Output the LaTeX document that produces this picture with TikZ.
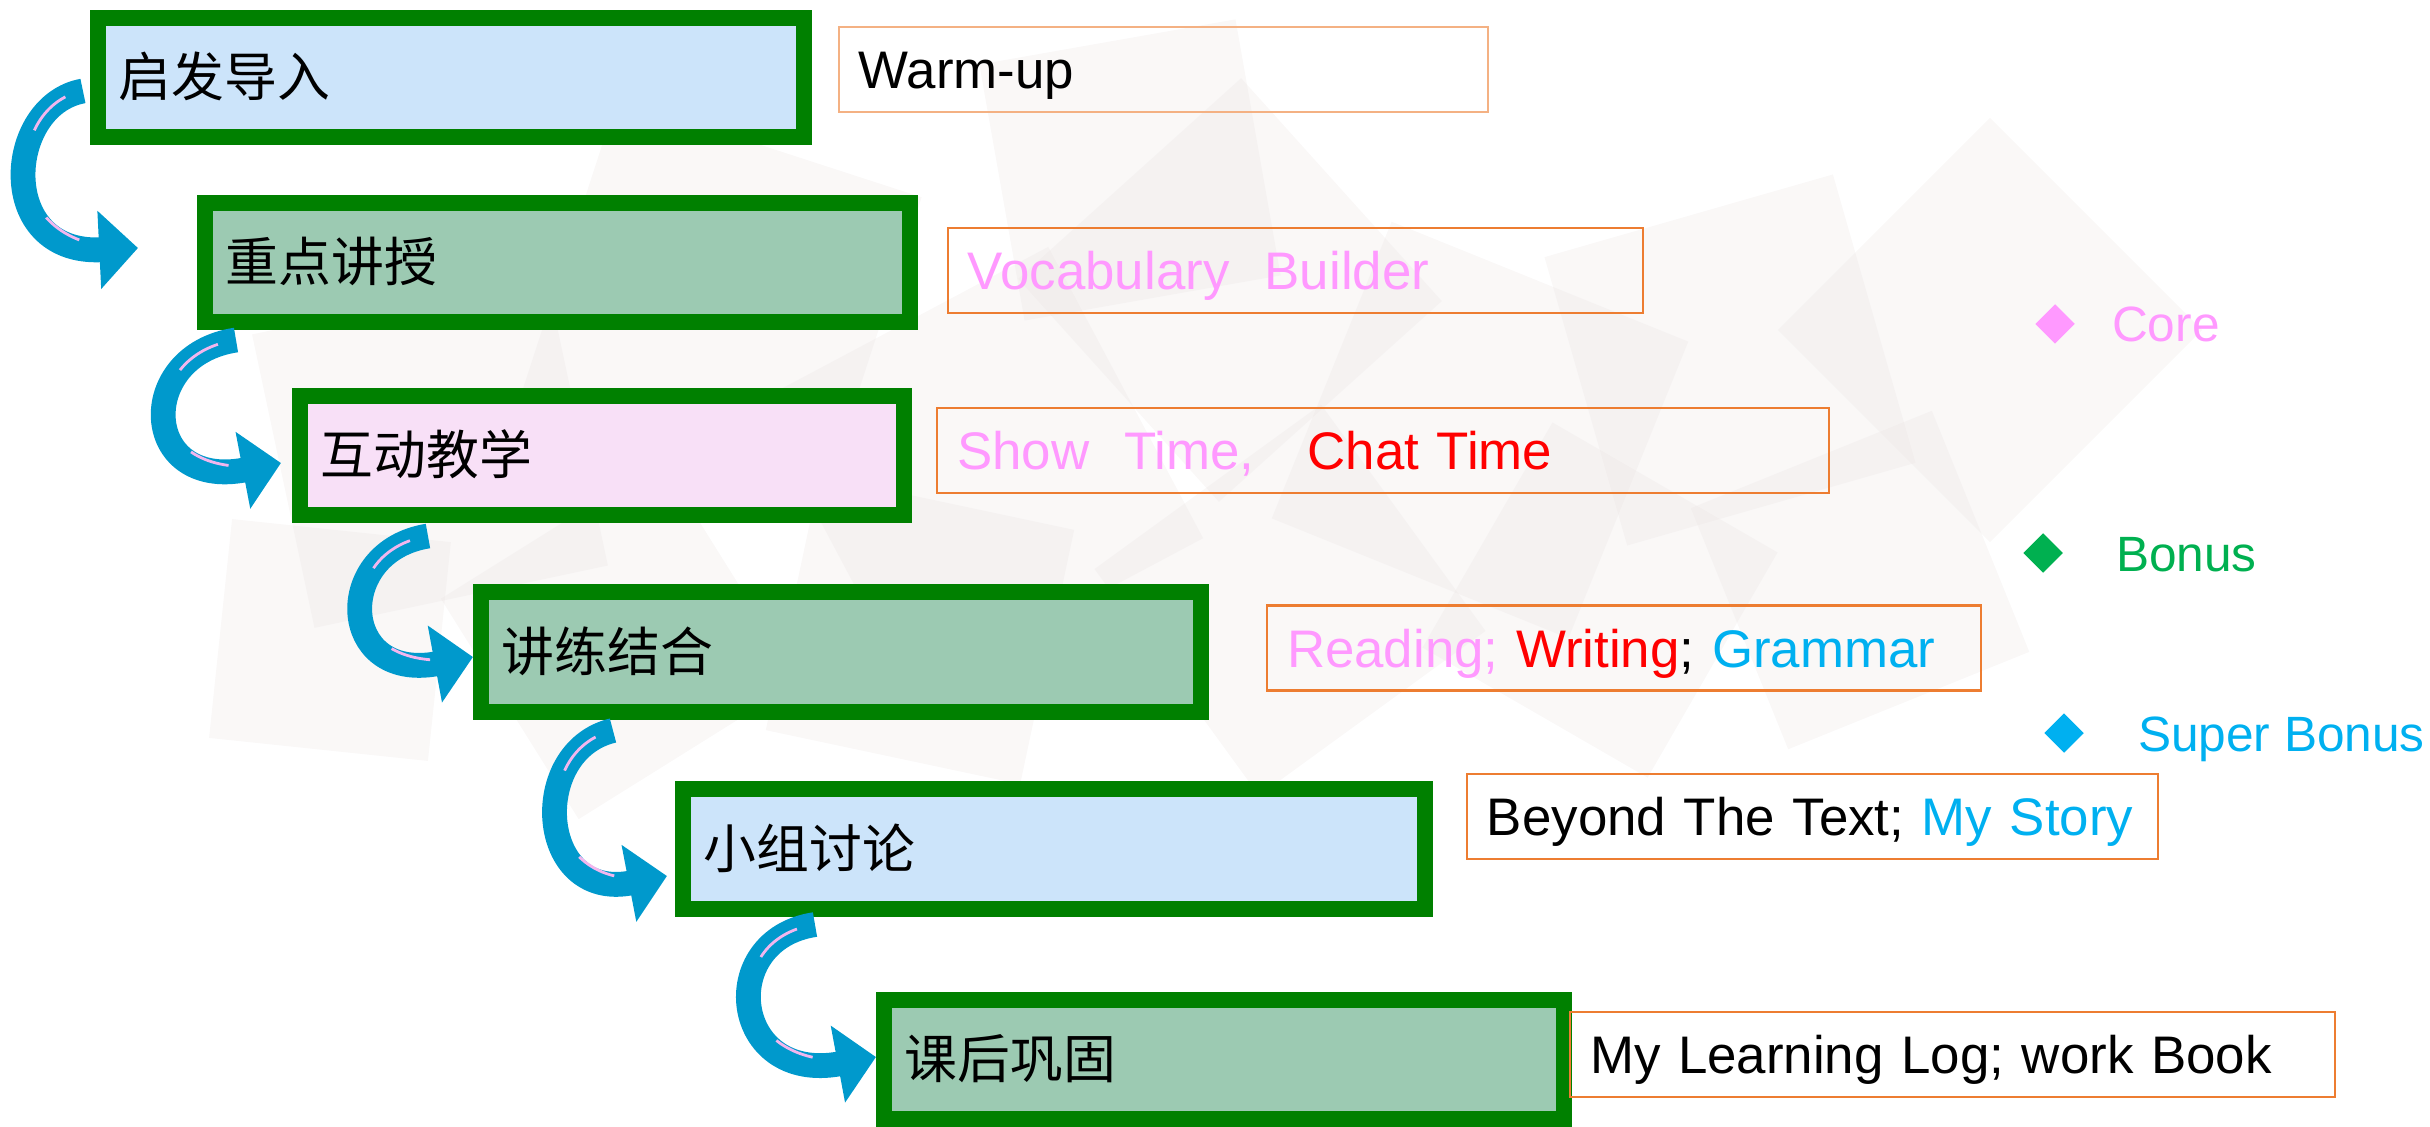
\documentclass[tikz,border=0pt]{standalone}
\usepackage{fontspec}
\setmainfont{Liberation Sans}
\newfontfamily\cjk{Noto Sans CJK SC}
\usepackage{xcolor}
\usepackage{tikz}
\usetikzlibrary{arrows.meta,shapes.geometric}
\definecolor{stepgreen}{HTML}{008000}
\definecolor{stepblue}{HTML}{CCE4FA}
\definecolor{stepsage}{HTML}{9CCAB2}
\definecolor{steppink}{HTML}{F8E0F7}
\definecolor{sideorange}{HTML}{ED7D31}
\definecolor{sidepeach}{HTML}{F4B183}
\definecolor{corepink}{HTML}{FF99FF}
\definecolor{bonusgreen}{HTML}{00B050}
\definecolor{superblue}{HTML}{00B0F0}
\definecolor{arrowblue}{HTML}{0099CC}
\definecolor{glintpink}{HTML}{F2B6EE}
\definecolor{bgsquare}{HTML}{E6DEDC}
\tikzset{
  stepbox/.style = {rectangle, draw=stepgreen, line width=1.03mm,
    minimum height=7.68mm, inner xsep=1.35mm, inner ysep=0pt, align=left,
    text height=7pt, text depth=0pt, font=\cjk\fontsize{9.7}{11}\selectfont},% green step box
  sidebox/.style = {rectangle, draw=sideorange, line width=0.17mm,
    minimum height=5.48mm, inner xsep=1.29mm, inner ysep=0pt, align=left,
    text height=7pt, text depth=0pt, font=\fontsize{9.7}{11}\selectfont},% orange side box
  legdot/.style = {diamond, inner sep=0pt, minimum size=2.6mm},
  legtext/.style = {anchor=base west, inner sep=0pt,
    font=\fontsize{9.1}{11}\selectfont},
  glint/.style = {draw=glintpink, line width=0.18mm, -,
    dash pattern=on 0mm off 1.2mm on 3mm off 6mm on 2.6mm off 40mm},
  flowarrow/.style = {arrowblue, line width=1.6mm,
    -{Triangle[width=4.9mm,length=2.5mm]}, postaction={glint}},
  bgsq/.style = {fill=bgsquare, fill opacity=0.22}
}
\begin{document}
\begin{tikzpicture}[x=0.0645mm,y=-0.0645mm]
\useasboundingbox (0,0) rectangle (2430,1126);
% faint squares behind
\fill[bgsq, shift={(430,450)}, rotate=12] (-150,-150) rectangle (150,150);
\fill[bgsq, shift={(720,300)}, rotate=-18] (-160,-160) rectangle (160,160);
\fill[bgsq, shift={(980,470)}, rotate=28] (-165,-165) rectangle (165,165);
\fill[bgsq, shift={(1230,290)}, rotate=42] (-150,-150) rectangle (150,150);
\fill[bgsq, shift={(1480,430)}, rotate=-22] (-160,-160) rectangle (160,160);
\fill[bgsq, shift={(1730,360)}, rotate=16] (-150,-150) rectangle (150,150);
\fill[bgsq, shift={(1990,330)}, rotate=45] (-150,-150) rectangle (150,150);
\fill[bgsq, shift={(620,640)}, rotate=32] (-130,-130) rectangle (130,130);
\fill[bgsq, shift={(920,630)}, rotate=-12] (-130,-130) rectangle (130,130);
\fill[bgsq, shift={(1290,600)}, rotate=36] (-140,-140) rectangle (140,140);
\fill[bgsq, shift={(1600,600)}, rotate=-30] (-130,-130) rectangle (130,130);
\fill[bgsq, shift={(1130,170)}, rotate=10] (-130,-130) rectangle (130,130);
\fill[bgsq, shift={(1860,580)}, rotate=22] (-130,-130) rectangle (130,130);
\fill[bgsq, shift={(330,640)}, rotate=-6] (-110,-110) rectangle (110,110);

% steps
\node [stepbox, fill=stepblue, text width=42.84mm] (intro) at (451,77.5) {启发导入};
\node [stepbox, fill=stepsage, text width=42.77mm] (focus) at (557.5,262.5) {重点讲授};
\node [stepbox, fill=steppink, text width=36.26mm] (interact) at (602,455.5) {互动教学};
\node [stepbox, fill=stepsage, text width=43.74mm] (practice) at (841,652) {讲练结合};
\node [stepbox, fill=stepblue, text width=45.16mm] (discuss) at (1054,849) {小组讨论};
\node [stepbox, fill=stepsage, text width=41.16mm] (review) at (1224,1059.5) {课后巩固};

% what each step holds
\node [sidebox, draw=sidepeach, text width=39.28mm] (warmup) at (1163.5,69.5) {Warm-up};
\node [sidebox, text width=42.25mm] (vocab) at (1295.5,270.5)
  {\color{corepink}Vocabulary\ \ Builder};
\node [sidebox, text width=54.95mm] (showtime) at (1383,450.5)
  {\color{corepink}Show\ \ Time,\ \ \ {\color{red}Chat Time}};
\node [sidebox, text width=43.47mm] (reading) at (1624,648)
  {{\color{corepink}Reading; }{\color{red}Writing}; {\color{superblue}Grammar}};
\node [sidebox, text width=41.99mm] (beyond) at (1812.5,816.5)
  {Beyond The Text; {\color{superblue}My Story}};
\node [sidebox, text width=46.76mm] (loglearn) at (1952.5,1054.5)
  {My Learning Log; work Book};

% key
\node [legdot, fill=corepink] (coredot) at (2055,324) {};
\node [legtext, text=corepink] (coretext) at (2111,342) {Core};
\node [legdot, fill=bonusgreen] (bonusdot) at (2043,553) {};
\node [legtext, text=bonusgreen] (bonustext) at (2115,571) {Bonus};
\node [legdot, fill=superblue] (superdot) at (2064,733) {};
\node [legtext, text=superblue] (supertext) at (2137,751) {Super Bonus};

% curved arrows
\draw [flowarrow] ([shift={(-7,13.5)}]intro.west)
  .. controls +(-78,14) and +(-143,7) .. ([shift={(-59,-14.5)}]focus.west);
\draw [flowarrow] ([shift={(39,10)}]focus.south west)
  .. controls +(-101,15) and +(-141,27) .. ([shift={(-11,7.5)}]interact.west);
\draw [flowarrow] ([shift={(136,13)}]interact.south west)
  .. controls +(-95,15) and +(-135,25) .. ([shift={(0,5)}]practice.west);
\draw [flowarrow] ([shift={(140,11)}]practice.south west)
  .. controls +(-85,20) and +(-130,25) .. ([shift={(-8,27)}]discuss.west);
\draw [flowarrow] ([shift={(140,8)}]discuss.south west)
  .. controls +(-100,15) and +(-145,27) .. ([shift={(0,-2.5)}]review.west);
\end{tikzpicture}
\end{document}
